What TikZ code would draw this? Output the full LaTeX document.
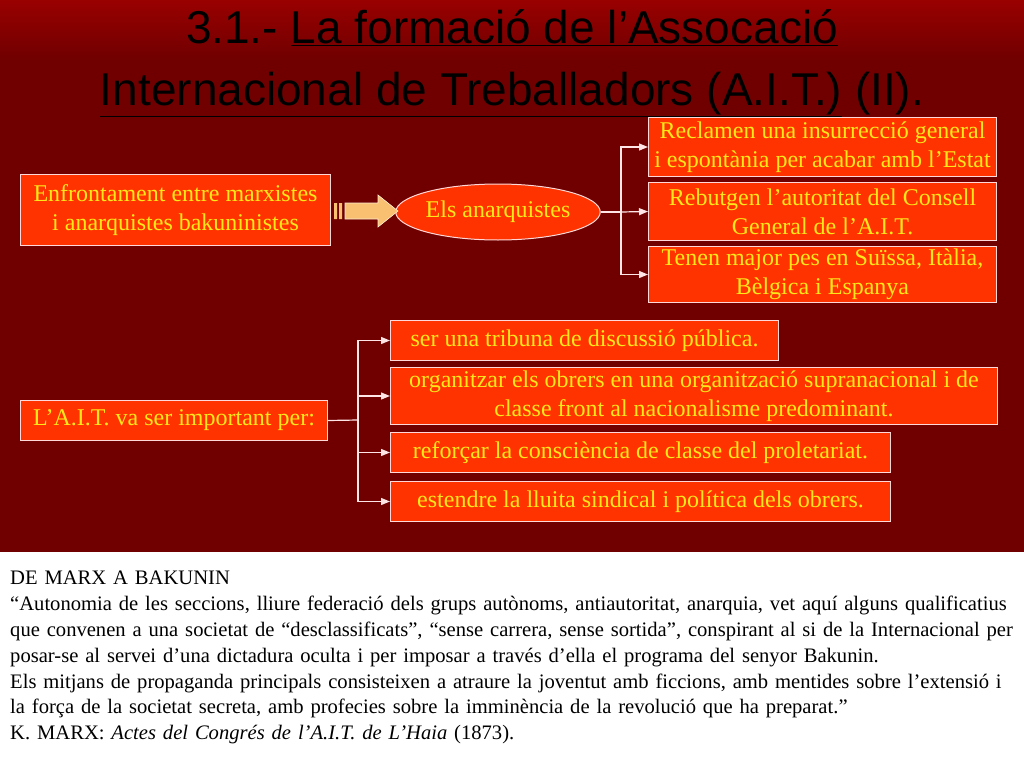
\documentclass[tikz,border=0pt]{standalone}
\usepackage{fontspec}
\setmainfont{Liberation Serif}
\newfontfamily\titlefont{Liberation Sans}
\usetikzlibrary{shapes.geometric,arrows.meta}
\definecolor{bgred}{HTML}{700000}
\definecolor{boxred}{HTML}{FF3300}
\definecolor{txty}{HTML}{FFE81A}
\definecolor{arrowor}{HTML}{F8C070}
\tikzset{
 box/.style={draw=white!85!red, line width=1pt, fill=boxred, text=txty, font=\fontsize{24}{29}\selectfont, align=center, inner sep=0pt, anchor=north west},
 conn/.style={draw=white!90!red, line width=1.2pt, -{Triangle[length=9pt,width=7pt]}},
 seg/.style={draw=white!90!red, line width=1.2pt},
}
\begin{document}
\begin{tikzpicture}[x=1pt,y=-1pt]
\useasboundingbox (0,0) rectangle (1024,768);
\shade[top color=red!60!black, bottom color=bgred, middle color=bgred] (0,0) rectangle (1024,120);
\fill[bgred] (0,119.5) rectangle (1024,552);
\fill[white] (0,552) rectangle (1024,768);
\node[font=\titlefont\fontsize{46}{62}\selectfont, align=center, text=black] (title) at (512,63)
 {3.1.- \underline{La formació de l’Assocació}\\\underline{Internacional de Treballadors (A.I.T.)} (II).};
% top part
\node[box, minimum width=310, minimum height=71] (enf) at (20,174) {Enfrontament entre marxistes\\i anarquistes bakuninistes};
\node[draw=white!85!red, line width=1pt, fill=boxred, text=txty, font=\fontsize{24}{29}\selectfont, ellipse, minimum width=190, minimum height=56, inner sep=0pt] (anar) at (498,212) {Els anarquistes};
\fill[arrowor, draw=white!70!arrowor, line width=0.6pt] (345,203) -- (378,203) -- (378,195) -- (398,211) -- (378,227) -- (378,219) -- (345,219) -- cycle;
\fill[arrowor] (334,203) rectangle (337,219) (339,203) rectangle (342,219);
\node[box, minimum width=348, minimum height=59] (r1) at (648,117) {Reclamen una insurrecció general\\i espontània per acabar amb l’Estat};
\node[box, minimum width=348, minimum height=58] (r2) at (648,182) {Rebutgen l’autoritat del Consell\\General de l’A.I.T.};
\node[box, minimum width=348, minimum height=56] (r3) at (648,246) {Tenen major pes en Suïssa, Itàlia,\\Bèlgica i Espanya};
\coordinate (j1) at (621,212);
\draw[seg] (anar.east) -- (j1);
\draw[conn] (j1) |- (r1.west);
\draw[conn] (j1) -- (r2.west);
\draw[conn] (j1) |- (r3.west);
% lower part
\node[box, minimum width=307, minimum height=40] (ait) at (20,400) {L’A.I.T. va ser important per:};
\node[box, minimum width=388, minimum height=40] (l1) at (390,320) {ser una tribuna de discussió pública.};
\node[box, minimum width=607, minimum height=57] (l2) at (390,367) {organitzar els obrers en una organització supranacional i de\\classe front al nacionalisme predominant.};
\node[box, minimum width=500, minimum height=40] (l3) at (390,432) {reforçar la consciència de classe del proletariat.};
\node[box, minimum width=500, minimum height=40] (l4) at (390,481) {estendre la lluita sindical i política dels obrers.};
\coordinate (j2) at (358,420);
\draw[seg] (ait.east) -- (j2);
\draw[conn] (j2) |- (l1.west);
\draw[conn] (j2) |- (l2.west);
\draw[conn] (j2) |- (l3.west);
\draw[conn] (j2) |- (l4.west);
% quote
\node[anchor=north west, align=left, text width=1010, inner sep=0pt, font=\fontsize{20.6}{25.8}\selectfont] (quote) at (10,571)
{DE MARX A BAKUNIN\\
“Autonomia de les seccions, lliure federació dels grups autònoms, antiautoritat, anarquia, vet aquí alguns qualificatius\\
que convenen a una societat de “desclassificats”, “sense carrera, sense sortida”, conspirant al si de la Internacional per\\
posar-se al servei d’una dictadura oculta i per imposar a través d’ella el programa del senyor Bakunin.\\
Els mitjans de propaganda principals consisteixen a atraure la joventut amb ficcions, amb mentides sobre l’extensió i\\
la força de la societat secreta, amb profecies sobre la imminència de la revolució que ha preparat.”\\
K. MARX: \textit{Actes del Congrés de l’A.I.T. de L’Haia} (1873).};
\end{tikzpicture}
\end{document}
